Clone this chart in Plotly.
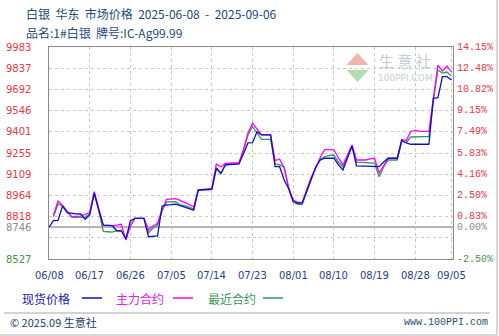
import plotly.graph_objects as go
import pandas as pd

# ---------------- data ----------------
start_date = "2025-06-08"
n_days = 90
dates = pd.date_range(start_date, periods=n_days, freq="D")

spot = [8746, 8790, 8792, 8891, 8845, 8839, 8837, 8836, 8800, 8830,
        8980, 8864, 8760, 8758, 8756, 8721, 8719, 8664, 8790, 8806,
        8806, 8806, 8680, 8683, 8685, 8890, 8898, 8900, 8903, 8894,
        8884, 8874, 8863, 9001, 9003, 9004, 9005, 9150, 9116, 9173,
        9175, 9177, 9180, 9250, 9324, 9326, 9401, 9379, 9379, 9379,
        9161, 9161, 9070, 9010, 8920, 8910, 8912, 8997, 9083, 9161,
        9207, 9219, 9219, 9219, 9173, 9138, 9220, 9303, 9166, 9166,
        9166, 9166, 9166, 9161, 9193, 9219, 9219, 9219, 9341, 9324,
        9315, 9315, 9315, 9315, 9315, 9631, 9635, 9779, 9779, 9756]

main_contract = [None, 8829, 8925, 8894, 8857, 8818, 8820, 8822, 8833, 8846,
                 8989, 8864, 8760, 8758, 8756, 8760, 8765, 8657, 8754, 8806,
                 8806, 8806, 8726, 8754, 8772, 8864, 8937, 8939, 8941, 8929,
                 8915, 8901, 8886, 9001, 9006, 9010, 9012, 9179, 9159, 9183,
                 9184, 9186, 9188, 9276, 9392, 9459, 9418, 9379, 9379, 9379,
                 9203, 9214, 9152, 9014, 8932, 8916, 8916, 9001, 9090, 9152,
                 9228, 9280, 9279, 9277, 9221, 9173, 9241, 9310, 9207, 9207,
                 9207, 9215, 9219, 9116, 9166, 9219, 9219, 9219, 9348, 9341,
                 9403, 9410, 9403, 9403, 9403, 9633, 9859, 9818, 9852, 9811]

nearest_contract = [None, 8817, 8905, 8891, 8850, 8815, 8813, 8812, 8815, 8836,
                    8980, 8857, 8716, 8714, 8712, 8721, 8723, 8671, 8754, 8806,
                    8806, 8806, 8706, 8740, 8760, 8857, 8920, 8920, 8921, 8898,
                    8894, 8884, 8870, 9001, 9004, 9005, 9006, 9152, 9111, 9173,
                    9176, 9178, 9180, 9276, 9379, 9436, 9392, 9349, 9349, 9349,
                    9180, 9173, 9159, 9014, 8925, 8903, 8902, 8987, 9083, 9159,
                    9214, 9230, 9238, 9241, 9193, 9159, 9234, 9303, 9193, 9190,
                    9190, 9186, 9186, 9092, 9159, 9207, 9207, 9207, 9337, 9327,
                    9365, 9367, 9367, 9367, 9367, 9619, 9825, 9804, 9811, 9783]

y_tick_labels = ["9983", "9837", "9692", "9546", "9401", "9255", "9109",
                 "8964", "8818", "8746", "8527"]
pct_tick_labels = ["14.15%", "12.48%", "10.82%", "9.15%", "7.49%", "5.83%",
                   "4.16%", "2.50%", "0.83%", "0.00%", "-2.50%"]
x_tick_dates = ["2025-06-08", "2025-06-17", "2025-06-26", "2025-07-05",
                "2025-07-14", "2025-07-23", "2025-08-01", "2025-08-10",
                "2025-08-19", "2025-08-28", "2025-09-05"]
x_tick_text = ["06/08", "06/17", "06/26", "07/05", "07/14", "07/23",
               "08/01", "08/10", "08/19", "08/28", "09/05"]

series_names = ["现货价格", "主力合约", "最近合约"]
base_price = 8746
y_min, y_max = 8527, 9983

# ---------------- layout helpers ----------------
W, H = 499, 336
L, R, T, B = 49, 46, 47, 77
PW, PH = W - L - R, H - T - B


def px(x):
    return (x - L) / PW


def py(y):
    return (H - B - y) / PH


c_blue = "#1010C0"
c_mag = "#FF00FF"
c_green = "#2E9A5A"
c_red = "#E8383D"

fig = go.Figure()
fig.add_trace(go.Scatter(x=dates, y=nearest_contract, mode="lines",
                         line=dict(color=c_green, width=1.3), name=series_names[2]))
fig.add_trace(go.Scatter(x=dates, y=main_contract, mode="lines",
                         line=dict(color=c_mag, width=1.3), name=series_names[1]))
fig.add_trace(go.Scatter(x=dates, y=spot, mode="lines",
                         line=dict(color=c_blue, width=1.3), name=series_names[0]))

step = (y_max - y_min) / 10
grid_vals = [y_min + step * k for k in range(11)]

fig.update_layout(
    width=W, height=H, margin=dict(l=L, r=R, t=T, b=B),
    paper_bgcolor="white", plot_bgcolor="white", showlegend=False,
    font=dict(family="DejaVu Sans", size=10),
    xaxis=dict(type="date", range=["2025-06-08", "2025-09-05 08:00"],
               tickvals=x_tick_dates, showticklabels=False, ticks="",
               showgrid=True, gridcolor="#C8C8C8", griddash="dot", gridwidth=1,
               showline=True, linecolor="#8A8A8A", linewidth=1, mirror=True,
               zeroline=False, fixedrange=True),
    yaxis=dict(range=[y_min, y_max], tickvals=grid_vals, showticklabels=False,
               ticks="", showgrid=True, gridcolor="#C8C8C8", griddash="dot",
               gridwidth=1, showline=True, linecolor="#8A8A8A", linewidth=1,
               mirror=True, zeroline=False, fixedrange=True),
)

shapes = []
# baseline 0%
shapes.append(dict(type="line", xref="paper", yref="y", x0=0, x1=1,
                   y0=base_price, y1=base_price,
                   line=dict(color="#B4B4B4", width=2), layer="below"))

annotations = []
# left tick labels
label_vals = [9983, 9837, 9692, 9546, 9401, 9255, 9109, 8964, 8818, 8746, 8527]
for v, t in zip(label_vals, y_tick_labels):
    col = c_red
    if t == "8746":
        col = "#8C8C8C"
    elif t == "8527":
        col = "#3C9A3C"
    annotations.append(dict(xref="paper", yref="y", x=px(4), y=v, text=t,
                            xanchor="left", yanchor="middle", showarrow=False,
                            font=dict(family="DejaVu Sans", size=10, color=col)))
for v, t in zip(label_vals, pct_tick_labels):
    col = c_red
    if t == "0.00%":
        col = "#8C8C8C"
    elif t.startswith("-"):
        col = "#3C9A3C"
    annotations.append(dict(xref="paper", yref="y", x=px(455), y=v, text=t,
                            xanchor="left", yanchor="middle", showarrow=False,
                            font=dict(family="Liberation Mono", size=10, color=col)))
# x labels
for d, t in zip(x_tick_dates, x_tick_text):
    annotations.append(dict(xref="x", yref="paper", x=d, y=py(275), text=t,
                            xanchor="center", yanchor="middle", showarrow=False,
                            font=dict(family="DejaVu Sans", size=10, color="#1F3F8F")))

cjk = "Noto Sans CJK SC"
sp = "\u00a0"
title1 = f"白银{sp*2}华东{sp*2}市场价格{sp*2}2025-06-08{sp*2}-{sp*2}2025-09-06"
title2 = f"品名:1#白银{sp*2}牌号:IC-Ag99.99"
annotations.append(dict(xref="paper", yref="paper", x=px(24), y=py(14), text=title1,
                        xanchor="left", yanchor="middle", showarrow=False,
                        font=dict(family=cjk, size=12, color="#1C4A7A")))
annotations.append(dict(xref="paper", yref="paper", x=px(24), y=py(33), text=title2,
                        xanchor="left", yanchor="middle", showarrow=False,
                        font=dict(family=cjk, size=12, color="#1C4A7A")))

# legend
legend_items = [(series_names[0], c_blue, "#2020A8", 20, 82, 102),
                (series_names[1], c_mag, "#E020E0", 114, 173, 193),
                (series_names[2], c_green, "#3A9A5A", 206, 263, 283)]
for name, lc, tc, tx, lx0, lx1 in legend_items:
    annotations.append(dict(xref="paper", yref="paper", x=px(tx), y=py(298), text=name,
                            xanchor="left", yanchor="middle", showarrow=False,
                            font=dict(family=cjk, size=12, color=tc)))
    shapes.append(dict(type="line", xref="paper", yref="paper", x0=px(lx0), x1=px(lx1),
                       y0=py(298), y1=py(298), line=dict(color=lc, width=1.5)))

# footer
shapes.append(dict(type="line", xref="paper", yref="paper", x0=px(4), x1=px(490),
                   y0=py(313), y1=py(313), line=dict(color="#A8A8A8", width=1)))
annotations.append(dict(xref="paper", yref="paper", x=px(8), y=py(322),
                        text="©" + sp + "2025.09" + sp + "生意社",
                        xanchor="left", yanchor="middle", showarrow=False,
                        font=dict(family=cjk, size=11, color="#1C3C6C")))
annotations.append(dict(xref="paper", yref="paper", x=px(490), y=py(322),
                        text="www.100PPI.com",
                        xanchor="right", yanchor="middle", showarrow=False,
                        font=dict(family="Liberation Mono", size=10, color="#2F4F6F")))

# outer frame (right and bottom)
shapes.append(dict(type="line", xref="paper", yref="paper", x0=px(497), x1=px(497),
                   y0=py(0), y1=py(335), line=dict(color="#B0B0B0", width=1)))
shapes.append(dict(type="line", xref="paper", yref="paper", x0=px(0), x1=px(497),
                   y0=py(335), y1=py(335), line=dict(color="#B0B0B0", width=1)))

# watermark logo
shapes.append(dict(type="path", xref="paper", yref="paper",
                   path=f"M {px(346.5)},{py(65)} L {px(368.5)},{py(65)} L {px(357.5)},{py(53)} Z",
                   fillcolor="#F2B4AC", line=dict(width=0), layer="below"))
shapes.append(dict(type="path", xref="paper", yref="paper",
                   path=f"M {px(346.5)},{py(70)} L {px(368.5)},{py(70)} L {px(357.5)},{py(82)} Z",
                   fillcolor="#B4DCB0", line=dict(width=0), layer="below"))
annotations.append(dict(xref="paper", yref="paper", x=px(405), y=py(60),
                        text="生" + sp + "意" + sp + "社", xanchor="center", yanchor="middle",
                        showarrow=False, borderpad=0,
                        font=dict(family=cjk, size=15, color="#C4CCD6")))
annotations.append(dict(xref="paper", yref="paper", x=px(405), y=py(78),
                        text="100PPI.COM", xanchor="center", yanchor="middle",
                        showarrow=False, borderpad=0,
                        font=dict(family="DejaVu Sans", size=9, color="#C8CED6")))

fig.update_layout(shapes=shapes, annotations=annotations)
fig.write_html("out.html")
